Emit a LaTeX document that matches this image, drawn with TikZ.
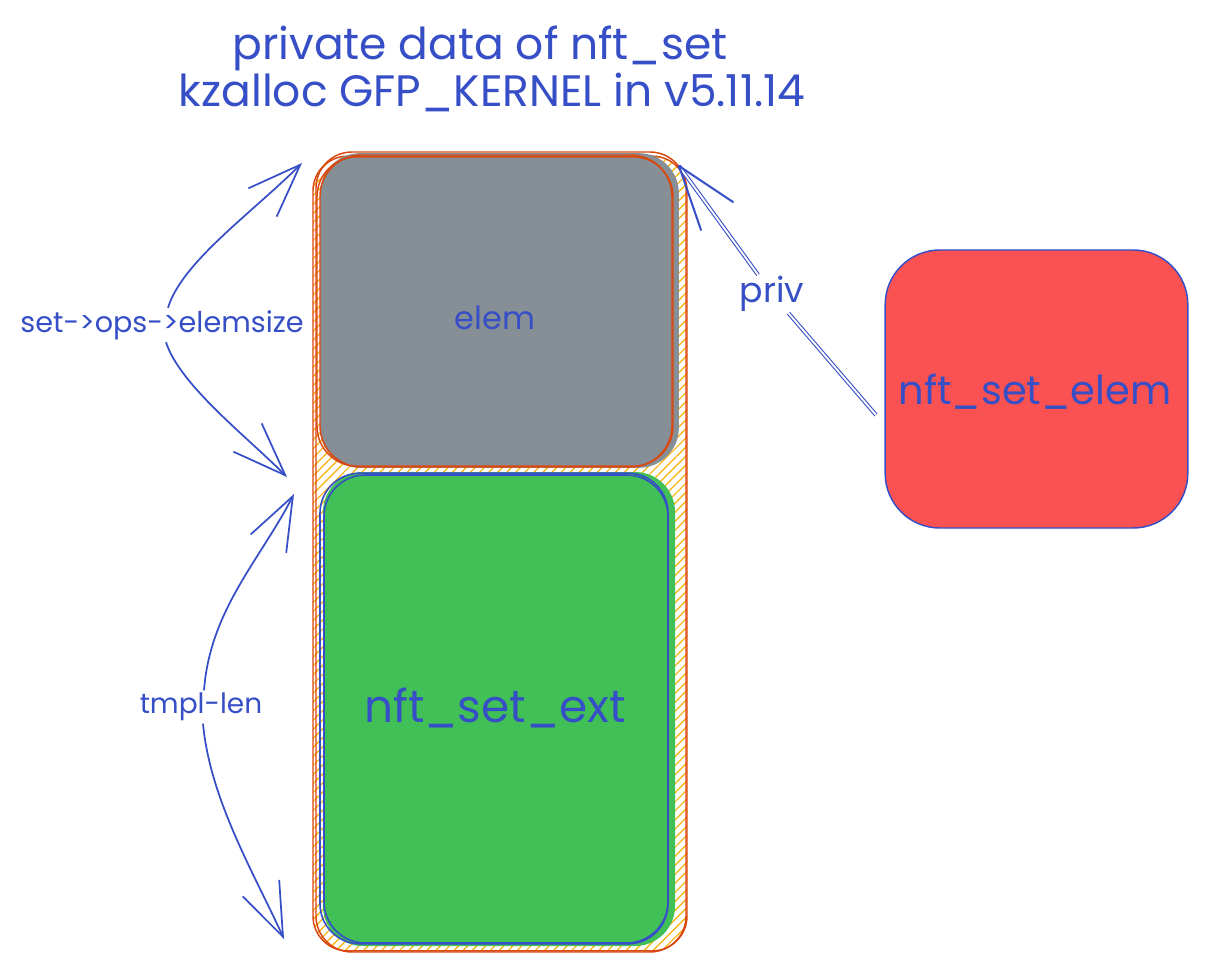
\documentclass[tikz,border=0pt]{standalone}
\usepackage{fontspec}
\setmainfont{Poppins}
\usetikzlibrary{arrows.meta,patterns.meta,calc}
\definecolor{ink}{HTML}{364FC7}
\definecolor{edge}{HTML}{D9480F}
\definecolor{hatch}{HTML}{FAB005}
\definecolor{grayfill}{HTML}{868E96}
\definecolor{greenfill}{HTML}{40C057}
\definecolor{redfill}{HTML}{FA5252}
\begin{document}
\begin{tikzpicture}[x=0.75pt,y=-0.75pt,
  lbl/.style={text=ink,inner sep=1pt},
  boxshape/.style={rectangle,rounded corners=#1,inner sep=0pt},
  stroke/.style={draw=edge,line width=1.1pt,fill=none},
  bstroke/.style={draw=ink,line width=1.2pt,fill=none},
  curvearrow/.style={draw=ink,line width=1.3pt,-{Straight Barb[length=40pt,width=30pt,line width=1.3pt]}},
  dbl/.style={draw=ink,line width=0.8pt,double=white,double distance=1.4pt},
  barb/.style={draw=ink,line width=1.5pt,line cap=round}]
\useasboundingbox (0,0) rectangle (1207,970);
\fill[white] (0,0) rectangle (1207,970);

% title
\node[lbl,font=\fontsize{33}{38}\selectfont] (title1) at (480,48) {private data of nft\_set};
\node[lbl,font=\fontsize{33}{38}\selectfont] (title2) at (492,92) {kzalloc GFP\_KERNEL in v5.11.14};

% outer container with hatching
\node[boxshape=26pt,minimum width=280.5pt,minimum height=596pt,
      pattern={Lines[angle=45,distance=4.8pt,line width=0.9pt]},pattern color=hatch,
      draw=edge,line width=1.1pt] (outer) at (500,553.5) {};
\node[boxshape=27pt,minimum width=277.5pt,minimum height=600pt,stroke] (outer2) at (501,552) {};

% gray elem box
\node[boxshape=30pt,minimum width=269pt,minimum height=236pt,fill=grayfill] (gray) at (499.5,310.5) {};
\node[boxshape=30pt,minimum width=267pt,minimum height=232pt,stroke] (grayb) at (495,311.5) {};
\node[boxshape=31pt,minimum width=264pt,minimum height=234pt,stroke] (grayc) at (496,311) {};
\node[lbl,font=\fontsize{24}{28}\selectfont] (elem) at (495,318) {elem};

% green ext box
\node[boxshape=30pt,minimum width=264pt,minimum height=355.5pt,fill=greenfill] (green) at (499,709) {};
\node[boxshape=30pt,minimum width=261pt,minimum height=353pt,bstroke] (greenb) at (494,708.5) {};
\node[boxshape=31pt,minimum width=258pt,minimum height=351pt,bstroke] (greenc) at (496,709) {};
\node[lbl,font=\fontsize{34}{38}\selectfont] (ext) at (495,708) {nft\_set\_ext};

% red nft_set_elem box
\node[boxshape=41pt,minimum width=227pt,minimum height=208.5pt,fill=redfill,draw=ink,line width=1.1pt] (red) at (1036.5,389) {};
\node[lbl,font=\fontsize{30}{34}\selectfont] (setelem) at (1035,392) {nft\_set\_elem};

% left labels
\node[lbl,font=\fontsize{21.5}{25}\selectfont] (esize) at (162,325) {set->ops->elemsize};
\node[lbl,font=\fontsize{21}{25}\selectfont] (tlen) at (201,707) {tmpl-len};

% curved arrows
\coordinate (e1) at (302,163);
\coordinate (e2) at (287,477);
\coordinate (t1) at (294,494);
\coordinate (t2) at (284,939);
\draw[curvearrow] (esize.north) ++(6,-1) coordinate (es1) .. controls (182,262) and (252,213) .. (e1);
\draw[curvearrow] (esize.south) ++(4,1) coordinate (es2) .. controls (180,385) and (245,435) .. (e2);
\draw[curvearrow] (tlen.north) ++(3,-1) coordinate (ts1) .. controls (210,610) and (260,560) .. (t1);
\draw[curvearrow] (tlen.south) ++(2,1) coordinate (ts2) .. controls (210,800) and (255,875) .. (t2);

% priv pointer
\node[lbl,font=\fontsize{26}{30}\selectfont] (priv) at (772,294) {priv};
\coordinate (ps) at (876,415);
\coordinate (pt) at (679,166);
\draw[dbl] (ps) -- (priv);
\draw[dbl] (priv) -- (pt);
\draw[barb] (pt) -- ++(54,36);
\draw[barb] (pt) -- ++(22,64);
\end{tikzpicture}
\end{document}
